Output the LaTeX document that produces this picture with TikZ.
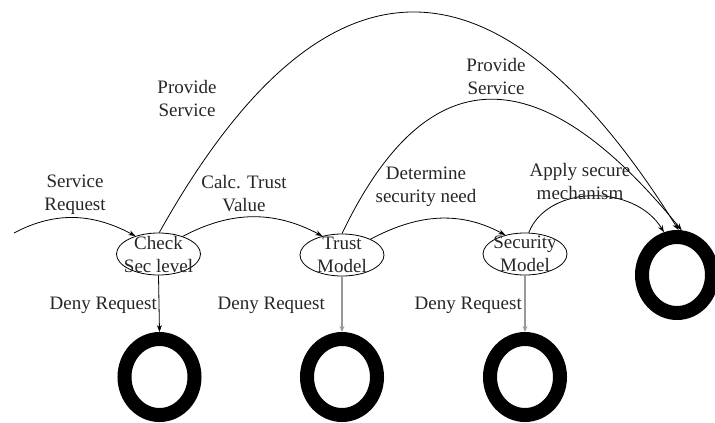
\documentclass[tikz,border=0pt]{standalone}
\usepackage{fontspec}
\setmainfont{Liberation Serif}
\usetikzlibrary{shapes.geometric,arrows.meta}

\begin{document}
\begin{tikzpicture}[x=1pt,y=1pt,
  stage/.style={draw, ellipse, line width=0.8pt, minimum width=84pt, minimum height=42pt, inner sep=0pt},
  sink/.style={draw, ellipse, line width=14pt, outer sep=7pt, minimum width=70pt, minimum height=76pt, inner sep=0pt},
  lbl/.style={align=center, font=\fontsize{19}{23}\selectfont, text=black!85, inner sep=0pt},
  flow/.style={line width=0.8pt, -{Stealth[length=7pt,width=5pt]}},
  deny/.style={flow, line width=1.3pt, draw=black!40, -{Stealth[length=6pt,width=5pt]}}
]
\useasboundingbox (0,0) rectangle (715,-423);

% processing stages
\node[stage] (check) at (158.5,-254) {};
\node[stage] (trust) at (342,-255) {};
\node[stage] (secm)  at (525,-254) {};
\node[lbl] at (check) {Check\\Sec level};
\node[lbl] at (trust) {Trust\\Model};
\node[lbl] at (secm)  {Security\\Model};

% end states
\node[sink] (endA) at (159.5,-377) {};
\node[sink] (endB) at (342,-377) {};
\node[sink] (endC) at (525,-377) {};
\node[sink] (endD) at (677,-275) {};

% incoming request
\coordinate (in) at (14,-233);

% main flow
\draw[flow] (in) to[out=28,in=152] (check.142);
\draw[flow] (check.36) to[out=28,in=152] (trust.136);
\draw[flow] (trust.29) to[out=28,in=152] (secm.136);
\draw[flow] (secm.80) .. controls (548,-184) and (635,-184) .. (endD.107);

% service provided directly
\draw[flow] (check.88) .. controls (323,60) and (497,61) .. (endD.88);
\draw[flow] (trust.90) .. controls (427,-56) and (539,-55) .. (endD.84);

% denial branches
\draw[flow] (check.south) -- (endA.north);
\draw[deny] (trust.south) -- (endB.north);
\draw[deny] (secm.south) -- (endC.north);

% labels
\node[lbl] at (75,-195) {Service\\Request};
\node[lbl] at (244,-194) {Calc. Trust\\Value};
\node[lbl] at (187,-98) {Provide\\Service};
\node[lbl] at (496,-77) {Provide\\Service};
\node[lbl] at (426,-187) {Determine\\security need};
\node[lbl] at (580,-181) {Apply secure\\mechanism};
\node[lbl, anchor=east] at (157,-305) {Deny Request};
\node[lbl, anchor=east] at (325,-305) {Deny Request};
\node[lbl, anchor=east] at (522,-305) {Deny Request};
\end{tikzpicture}
\end{document}
